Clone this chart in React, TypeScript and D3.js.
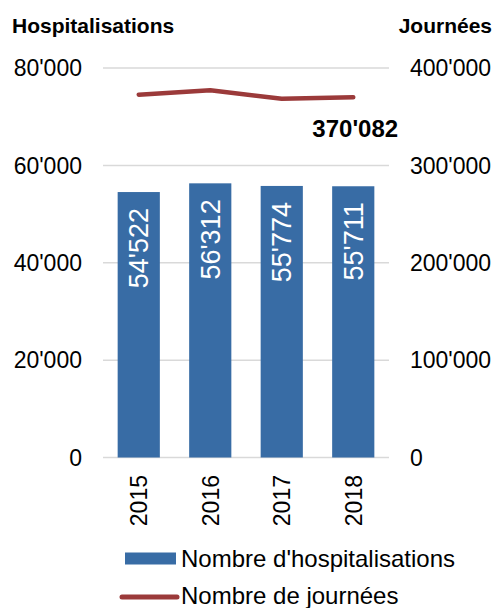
import React from "react";
import * as d3 from "d3";

const years = ["2015", "2016", "2017", "2018"];
const hospitalisations = [54522, 56312, 55774, 55711];
const journees = [372600, 377100, 368500, 370082];
const leftTicks = [0, 20000, 40000, 60000, 80000];
const rightTicks = [0, 100000, 200000, 300000, 400000];

const W = 498;
const H = 608;
const FONT = "'Liberation Sans', Arial, sans-serif";
const BLUE = "#386ca5";
const RED = "#9b3a3a";

const fmt = (v: number) => {
  const s = String(v);
  return s.replace(/\B(?=(\d{3})+(?!\d))/g, "'");
};

export default function App() {
  const x = d3.scaleBand<string>().domain(years).range([103, 389]).paddingInner(0.41).paddingOuter(0.205);
  const yL = d3.scaleLinear().domain([0, 80000]).range([457.5, 68]);
  const yR = d3.scaleLinear().domain([0, 400000]).range([457.5, 68]);
  const line = d3
    .line<number>()
    .x((_, i) => (x(years[i]) as number) + x.bandwidth() / 2)
    .y((d) => yR(d));
  const lastI = years.length - 1;
  const lastX = (x(years[lastI]) as number) + x.bandwidth() / 2;

  return (
    <svg width={W} height={H} style={{ position: "absolute", left: 0, top: 0 }} fontFamily={FONT}>
      <rect width={W} height={H} fill="#fff" />
      <text x={12} y={33} fontSize={21} fontWeight="bold" fill="#000">Hospitalisations</text>
      <text x={492} y={33} fontSize={21} fontWeight="bold" fill="#000" textAnchor="end">Journées</text>
      {leftTicks.map((t) => (
        <g key={"g" + t}>
          <line x1={103} x2={389} y1={yL(t)} y2={yL(t)} stroke="#d9d9d9" strokeWidth={1.5} />
          <text x={82} y={yL(t)} dy="0.36em" fontSize={23} textAnchor="end" fill="#000">{fmt(t)}</text>
        </g>
      ))}
      {rightTicks.map((t) => (
        <text key={"r" + t} x={410} y={yR(t)} dy="0.36em" fontSize={23} fill="#000">{fmt(t)}</text>
      ))}
      {years.map((yr, i) => {
        const bx = x(yr) as number;
        const cx = bx + x.bandwidth() / 2;
        const top = yL(hospitalisations[i]);
        return (
          <g key={yr}>
            <rect x={bx} y={top} width={x.bandwidth()} height={yL(0) - top} fill={BLUE} />
            <text
              transform={`translate(${cx},${top + 16}) rotate(-90)`}
              textAnchor="end"
              dy="0.36em"
              fontSize={27}
              fill="#fff"
            >
              {fmt(hospitalisations[i])}
            </text>
            <text
              transform={`translate(${cx},${475}) rotate(-90)`}
              textAnchor="end"
              dy="0.36em"
              fontSize={23}
              fill="#000"
            >
              {yr}
            </text>
          </g>
        );
      })}
      <path d={line(journees) as string} fill="none" stroke={RED} strokeWidth={4.5} strokeLinecap="round" strokeLinejoin="round" />
      <text x={lastX + 2} y={137} fontSize={24} fontWeight="bold" textAnchor="middle" fill="#000">
        {fmt(journees[lastI])}
      </text>
      <rect x={125} y={552.5} width={51} height={12} fill={BLUE} />
      <text x={181} y={567} fontSize={24} fill="#000">Nombre d'hospitalisations</text>
      <line x1={122} x2={177} y1={597} y2={597} stroke={RED} strokeWidth={5} strokeLinecap="round" />
      <text x={181} y={604} fontSize={24} fill="#000">Nombre de journées</text>
    </svg>
  );
}
